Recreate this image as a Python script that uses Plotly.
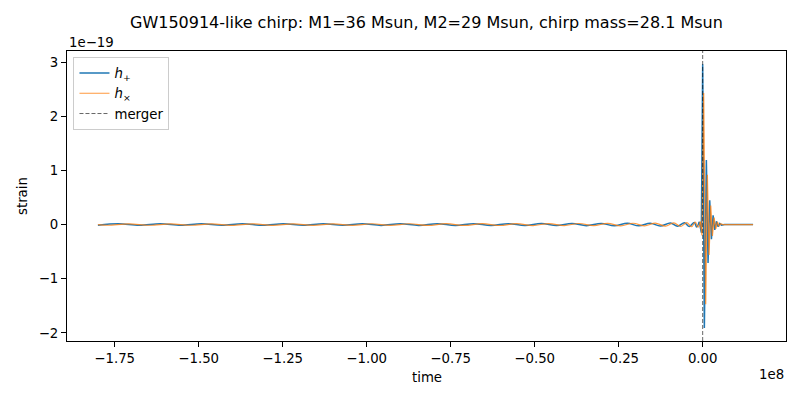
import numpy as np
import plotly.graph_objects as go

# ---- data (time in seconds, strain in units of 1e-19) ----
STRAIN_UNIT = 1e-19

# inspiral (h+)
t_plus_insp = [-1.800e8, -1.739e8, -1.677e8, -1.614e8, -1.553e8, -1.492e8, -1.431e8,
               -1.370e8, -1.309e8, -1.248e8, -1.189e8, -1.129e8, -1.071e8, -1.013e8,
               -0.957e8, -0.900e8, -0.845e8, -0.790e8, -0.736e8, -0.682e8, -0.630e8,
               -0.578e8, -0.529e8, -0.480e8, -0.435e8, -0.389e8, -0.346e8, -0.302e8,
               -0.263e8, -0.224e8, -0.190e8, -0.156e8, -0.126e8, -0.096e8, -0.075e8,
               -0.054e8, -0.040e8, -0.025e8, -0.018e8, -0.010e8]
h_plus_insp = [-0.013, 0.013, -0.013, 0.013, -0.013, 0.013, -0.013,
               0.014, -0.014, 0.014, -0.014, 0.014, -0.014, 0.015,
               -0.015, 0.015, -0.015, 0.016, -0.016, 0.016, -0.017,
               0.017, -0.018, 0.018, -0.019, 0.019, -0.020, 0.021,
               -0.022, 0.023, -0.024, 0.025, -0.027, 0.029, -0.031,
               0.034, -0.037, 0.040, -0.045, 0.050]
# merger + ringdown (h+)
t_plus_ring = [-0.010e8, -0.004e8, 0.000e8, 0.005e8, 0.011e8, 0.016e8, 0.021e8,
               0.026e8, 0.031e8, 0.036e8, 0.041e8, 0.046e8, 0.051e8, 0.056e8,
               0.065e8, 0.150e8]
h_plus_ring = [0.050, -0.150, 2.960, -1.910, 1.190, -0.710, 0.450,
               -0.270, 0.170, -0.100, 0.060, -0.040, 0.020, -0.010,
               0.000, 0.000]

# inspiral (hx)
t_cross_insp = [-1.800e8, -1.770e8, -1.708e8, -1.646e8, -1.584e8, -1.523e8, -1.462e8,
                -1.401e8, -1.340e8, -1.279e8, -1.219e8, -1.159e8, -1.100e8, -1.042e8,
                -0.985e8, -0.929e8, -0.873e8, -0.818e8, -0.763e8, -0.709e8, -0.656e8,
                -0.604e8, -0.554e8, -0.505e8, -0.458e8, -0.412e8, -0.368e8, -0.324e8,
                -0.283e8, -0.244e8, -0.207e8, -0.173e8, -0.141e8, -0.111e8, -0.086e8,
                -0.065e8, -0.047e8, -0.033e8, -0.022e8, -0.014e8, -0.007e8]
h_cross_insp = [0.000, -0.013, 0.013, -0.013, 0.013, -0.013, 0.013,
                -0.014, 0.014, -0.014, 0.014, -0.014, 0.014, -0.015,
                0.015, -0.015, 0.015, -0.016, 0.016, -0.016, 0.017,
                -0.017, 0.018, -0.018, 0.019, -0.019, 0.020, -0.021,
                0.022, -0.023, 0.024, -0.025, 0.027, -0.029, 0.031,
                -0.034, 0.037, -0.040, 0.045, -0.050, 0.055]
# merger + ringdown (hx)
t_cross_ring = [-0.007e8, -0.002e8, 0.003e8, 0.009e8, 0.014e8, 0.019e8, 0.024e8,
                0.029e8, 0.034e8, 0.039e8, 0.044e8, 0.049e8, 0.054e8, 0.060e8,
                0.150e8]
h_cross_ring = [0.055, -0.200, 2.430, -1.470, 0.920, -0.560, 0.350,
                -0.210, 0.130, -0.080, 0.050, -0.030, 0.015, 0.000,
                0.000]

merger_time = 0.0

x_tick_vals = [-1.75e8, -1.50e8, -1.25e8, -1.00e8, -0.75e8, -0.50e8, -0.25e8, 0.0]
x_tick_text = ["\u22121.75", "\u22121.50", "\u22121.25", "\u22121.00",
               "\u22120.75", "\u22120.50", "\u22120.25", "0.00"]
y_tick_vals = [-2, -1, 0, 1, 2, 3]
y_tick_text = ["\u22122", "\u22121", "0", "1", "2", "3"]

title_text = "GW150914-like chirp: M1=36 Msun, M2=29 Msun, chirp mass=28.1 Msun"

# ---- figure ----
FONT = "DejaVu Sans"
BLUE = "#1f77b4"
ORANGE = "rgba(255,127,14,0.8)"
fig = go.Figure()
fig.add_trace(go.Scatter(
    x=t_plus_insp, y=np.array(h_plus_insp) * STRAIN_UNIT, mode="lines",
    name="<i>h</i><sub>+</sub>", legendgroup="plus",
    line=dict(color=BLUE, width=1.5, shape="spline", smoothing=1)))
fig.add_trace(go.Scatter(
    x=t_plus_ring, y=np.array(h_plus_ring) * STRAIN_UNIT, mode="lines",
    name="<i>h</i><sub>+</sub>", legendgroup="plus", showlegend=False,
    line=dict(color=BLUE, width=1.5)))
fig.add_trace(go.Scatter(
    x=t_cross_insp, y=np.array(h_cross_insp) * STRAIN_UNIT, mode="lines",
    name="<i>h</i><sub>\u00d7</sub>", legendgroup="cross",
    line=dict(color=ORANGE, width=1.2, shape="spline", smoothing=1)))
fig.add_trace(go.Scatter(
    x=t_cross_ring, y=np.array(h_cross_ring) * STRAIN_UNIT, mode="lines",
    name="<i>h</i><sub>\u00d7</sub>", legendgroup="cross", showlegend=False,
    line=dict(color=ORANGE, width=1.2)))
fig.add_shape(type="line", x0=merger_time, x1=merger_time, y0=0, y1=1,
              xref="x", yref="paper",
              line=dict(color="rgba(0,0,0,0.6)", width=1, dash="4px,2px"),
              showlegend=True, name="merger")

axis_common = dict(showline=True, linecolor="black", linewidth=1, mirror=True,
                   ticks="outside", ticklen=5, tickwidth=1, tickcolor="black",
                   showgrid=False, zeroline=False,
                   tickfont=dict(family=FONT, size=13.3, color="black"))

fig.update_layout(
    width=800, height=400,
    margin=dict(l=67, r=14, t=51, b=59),
    paper_bgcolor="white", plot_bgcolor="white",
    font=dict(family=FONT, size=13.3, color="black"),
    showlegend=True,
    legend=dict(x=0.009, y=0.98, xanchor="left", yanchor="top",
                tracegroupgap=0,
                bgcolor="rgba(255,255,255,0.8)", bordercolor="#cccccc",
                borderwidth=1, font=dict(family=FONT, size=13.3)),
    xaxis=dict(range=[-1.892e8, 0.248e8], tickvals=x_tick_vals,
               ticktext=x_tick_text, **axis_common),
    yaxis=dict(range=[-2.15 * STRAIN_UNIT, 3.205 * STRAIN_UNIT],
               tickvals=[v * STRAIN_UNIT for v in y_tick_vals],
               ticktext=y_tick_text, **axis_common),
)

annots = [
    dict(text=title_text, x=0.5, y=1, xanchor="center", yanchor="middle",
         yshift=29, font=dict(family=FONT, size=16)),
    dict(text="time", x=0.5, y=0, xanchor="center", yanchor="middle", yshift=-36),
    dict(text="strain", x=0, y=0.5, xanchor="center", yanchor="middle",
         xshift=-45, textangle=-90),
    dict(text="1e\u221219", x=0, y=1, xanchor="left", yanchor="middle", yshift=9),
    dict(text="1e8", x=1, y=0, xanchor="right", yanchor="middle", yshift=-33),
]
for a in annots:
    fig.add_annotation(xref="paper", yref="paper", showarrow=False,
                       font=a.pop("font", dict(family=FONT, size=13.3)), **a)

fig.write_html("out.html", config={"displayModeBar": False},
               post_script="document.body.style.margin='0px';document.body.style.padding='0px';")
